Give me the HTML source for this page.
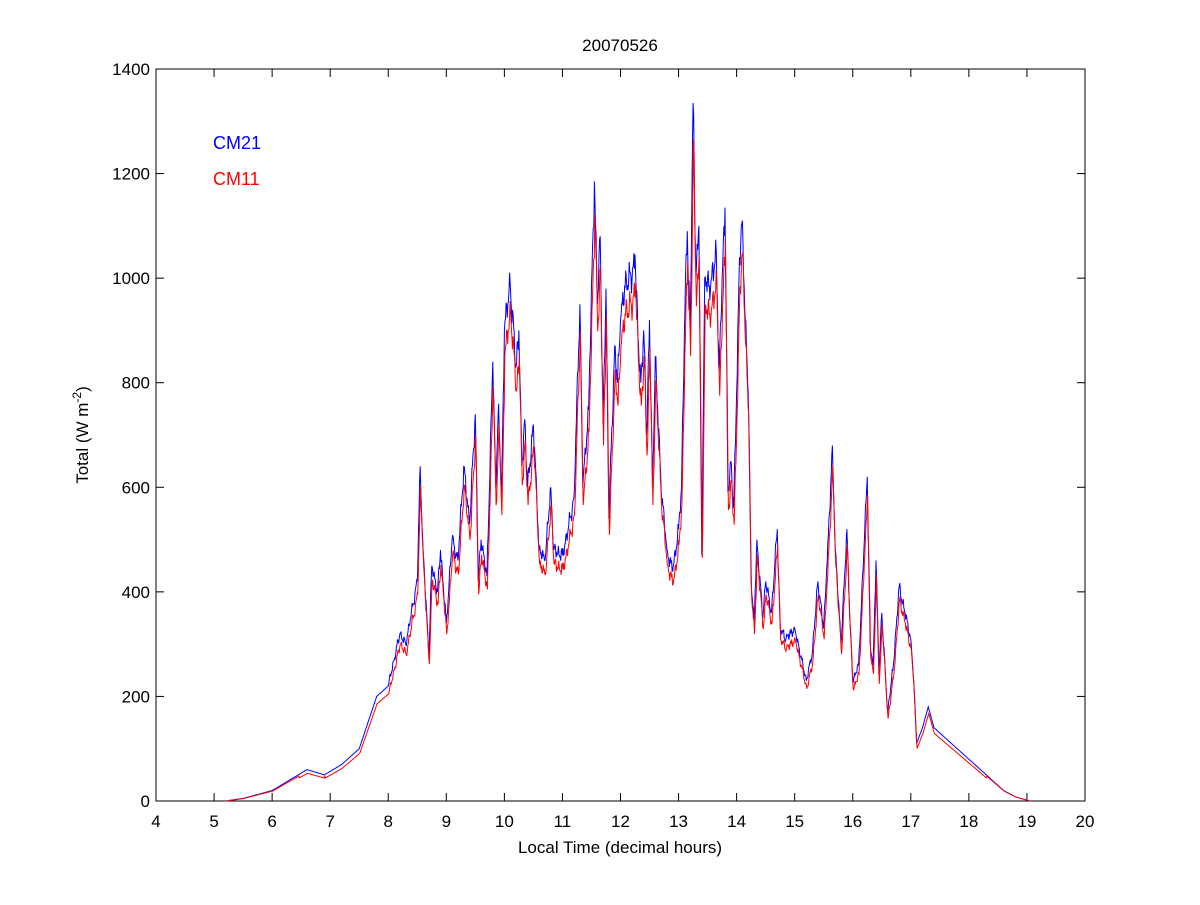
<!DOCTYPE html>
<html><head><meta charset="utf-8"><style>
body{margin:0;background:#fff;}
svg text{font-family:"Liberation Sans",sans-serif;}
</style></head><body>
<svg id="s" width="1200" height="900" xmlns="http://www.w3.org/2000/svg">
<rect width="1200" height="900" fill="#fff"/>
<rect x="156" y="69" width="929" height="732" fill="#fff" stroke="#000" stroke-width="1"/>
<g id="ticks" stroke="#000" stroke-width="1"></g>
<g id="labels" font-size="17" fill="#000"></g>
<polyline id="blue" fill="none" stroke="#0000ff" stroke-width="1"/>
<polyline id="red" fill="none" stroke="#ff0000" stroke-width="1"/>
<text x="620" y="51" font-size="17" text-anchor="middle">20070526</text>
<text x="620" y="853" font-size="17" text-anchor="middle">Local Time (decimal hours)</text>
<text transform="translate(88,435) rotate(-90)" font-size="17" text-anchor="middle">Total (W m<tspan dy="-7" font-size="12">-2</tspan><tspan dy="7">)</tspan></text>
<text x="213" y="149" font-size="18" fill="#0000ff">CM21</text>
<text x="213" y="185" font-size="18" fill="#ff0000">CM11</text>
</svg>
<script>
var X=function(h){return 156+(h-4)*929/16;},Y=function(v){return 801-v*732/1400;};
var t=document.getElementById('ticks'),l=document.getElementById('labels'),g='';
var lab='';
for(var h=4;h<=20;h++){var x=X(h);g+='<line x1="'+x+'" y1="801" x2="'+x+'" y2="793"/><line x1="'+x+'" y1="69" x2="'+x+'" y2="77"/>';lab+='<text x="'+x+'" y="827" text-anchor="middle">'+h+'</text>';}
for(var v=0;v<=1400;v+=200){var y=Y(v);g+='<line x1="156" y1="'+y+'" x2="164" y2="'+y+'"/><line x1="1085" y1="'+y+'" x2="1077" y2="'+y+'"/>';lab+='<text x="150" y="'+(y+6)+'" text-anchor="end">'+v+'</text>';}
t.innerHTML=g;l.innerHTML=lab;
var d=[5.2,0,5.5,5,6,20,6.3,40,6.6,60,6.9,50,7.2,70,7.5,100,7.8,200,8.0,220,8.2,320,8.3,300,8.5,420,8.55,640,8.6,480,8.7,280,8.75,450,8.85,400,8.9,480,9.0,340,9.1,500,9.2,460,9.3,640,9.4,530,9.5,740,9.55,420,9.6,500,9.7,430,9.8,840,9.85,600,9.9,760,9.95,580,10.0,900,10.1,990,10.2,830,10.25,900,10.3,640,10.35,730,10.4,600,10.5,720,10.6,480,10.7,460,10.8,600,10.85,480,11.0,470,11.1,520,11.2,580,11.3,950,11.35,600,11.45,750,11.55,1185,11.6,950,11.65,1080,11.7,720,11.75,980,11.8,540,11.9,870,11.95,800,12.0,920,12.1,1000,12.2,1000,12.25,1045,12.3,890,12.35,800,12.4,900,12.45,700,12.5,920,12.55,600,12.6,850,12.7,600,12.8,480,12.9,440,13.0,520,13.05,600,13.1,900,13.15,1090,13.2,900,13.25,1335,13.3,1000,13.35,1100,13.4,470,13.45,1000,13.55,980,13.65,1050,13.7,820,13.75,1000,13.8,1135,13.85,590,13.9,650,13.95,560,14.0,780,14.05,1040,14.1,1110,14.15,920,14.2,780,14.25,420,14.3,340,14.35,500,14.45,350,14.5,420,14.6,360,14.7,520,14.75,330,14.85,310,15.0,330,15.2,230,15.3,280,15.4,420,15.5,330,15.55,440,15.6,550,15.65,680,15.7,480,15.8,300,15.9,520,15.95,350,16.0,230,16.1,260,16.2,500,16.25,620,16.3,300,16.35,260,16.4,460,16.45,240,16.5,360,16.6,170,16.7,260,16.8,410,16.9,360,17.0,310,17.05,230,17.1,110,17.2,140,17.3,180,17.4,140,17.6,120,17.8,100,18.0,80,18.2,60,18.4,40,18.6,20,18.8,8,19.05,0];
var b='',r='';
function noise(h){return Math.sin(h*97.3)*0.5+Math.sin(h*231.7+1.3)*0.35+Math.sin(h*53.1+2.1)*0.15;}
for(var i=0;i<d.length-2;i+=2){
  var h0=d[i],v0=d[i+1],h1=d[i+2],v1=d[i+3];
  var n=Math.max(1,Math.round((h1-h0)/0.01));
  for(var k=0;k<n;k++){
    var h=h0+(h1-h0)*k/n,v=v0+(v1-v0)*k/n;
    if(k>0&&h>8&&h<17)v+=v*0.04*noise(h);
    if(v<0)v=0;
    b+=X(h).toFixed(1)+','+Y(v).toFixed(1)+' ';
    var rv=v*0.95-(v>50?4:0);if(Math.abs(h-13.4)<0.006)rv=465;if(rv<0)rv=0;
    r+=X(h+0.008).toFixed(1)+','+Y(rv).toFixed(1)+' ';
  }
}
b+=X(19.05)+','+Y(0);r+=X(19.05)+','+Y(0);
document.getElementById('blue').setAttribute('points',b);
document.getElementById('red').setAttribute('points',r);
</script>
</body></html>
